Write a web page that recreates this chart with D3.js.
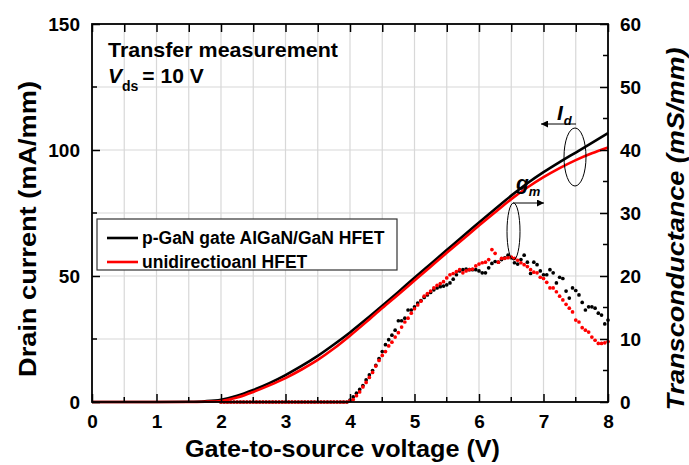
<!DOCTYPE html>
<html><head><meta charset="utf-8">
<script src="https://cdn.jsdelivr.net/npm/d3@7"></script>
<style>body{margin:0;background:#fff}svg{display:block}text{font-family:"Liberation Sans",Arial,sans-serif;font-weight:bold}</style>
</head><body><svg id="c" width="689" height="465"></svg>
<script>
// Drain current Id (mA/mm) vs Vgs (V)
const idV = [0,0.5,1,1.5,1.75,2,2.25,2.5,2.75,3,3.25,3.5,3.75,4,4.25,4.5,4.75,5,5.25,5.5,5.75,6,6.25,6.5,6.75,7,7.25,7.5,7.75,8];
const idBlack = [0,0,0,0.1,0.3,0.9,2.5,4.8,7.5,10.7,14.3,18.3,22.8,27.6,32.8,38.2,43.7,49.3,54.8,60.3,65.8,71.2,76.6,81.9,86.8,91.2,95.2,99.0,102.8,106.7];
const idRed   = [0,0,0,0,0.1,0.4,1.8,4,6.6,9.5,12.9,16.7,21.2,26.3,31.7,37.3,42.7,48.2,53.7,59.2,64.6,70,75.3,80.5,85.1,89.2,92.8,96,98.7,101];
// Transconductance gm (mS/mm), sampled every 0.05 V from 2.0 V to 8.0 V
const gmStart = 2.0, gmStep = 0.05;
const gmBlack = [
0,0,0,0,0,0,0,0,0,0,0,0,0,0,0,0,0,0,0,0,0,0,0,0,0,0,0,0,0,0,0,0,0,0,0,0,0,0,0,0,
0.3,0.8,1.4,2.0,2.6,3.5,4.3,5.0,5.8,6.9,8.0,9.1,9.9,10.6,11.4,12.9,12.9,13.3,14.6,14.6,
15.1,15.7,16.1,16.6,17.0,17.4,17.8,18.1,18.3,18.4,18.6,18.9,19.5,20.2,20.8,21.0,21.1,21.0,21.0,21.0,
20.8,20.5,20.5,21.3,22.0,22.3,22.2,22.6,22.9,23.3,22.9,22.1,21.9,22.6,23.3,22.2,20.4,22.2,21.8,20.8,
20.2,20.2,21.0,20.5,18.9,19.8,19.6,17.6,16.5,18.1,17.7,17.0,15.8,14.6,15.1,15.1,14.9,14.1,13.8,12.4,13.0];
const gmRed = [
0,0,0,0,0,0,0,0,0,0,0,0,0,0,0,0,0,0,0,0,0,0,0,0,0,0,0,0,0,0,0,0,0,0,0,0,0,0,0,0,
0.2,0.4,1.0,1.6,2.4,3.1,3.9,4.7,5.7,6.6,7.4,8.0,8.9,9.5,10.3,11.0,11.9,12.7,13.3,14.1,
14.8,15.4,16.0,16.8,17.2,17.6,18.1,18.5,18.8,19.1,19.7,20.2,20.4,20.7,21.0,20.5,20.8,21.0,21.1,21.6,
21.9,22.1,22.2,22.6,24.2,23.6,22.2,22.8,22.8,22.9,23.0,22.8,22.5,22.1,21.8,21.5,21.0,20.6,20.5,19.8,
19.6,19.0,18.1,18.1,17.5,16.8,16.2,15.5,14.9,14.3,13.0,12.7,11.8,11.4,11.1,10.3,9.8,9.3,9.3,9.4,9.6];
const xTicks = [0,1,2,3,4,5,6,7,8];
const yLeftTicks = [0,50,100,150];
const yRightTicks = [0,10,20,30,40,50,60];
const seriesNames = ["p-GaN gate AlGaN/GaN HFET","unidirectioanl HFET"];
const colors = ["#000000","#ff0000"];

const svg = d3.select("#c");
const L=92,R=608,T=24,B=402;
const x = d3.scaleLinear().domain([0,8]).range([L,R]);
const yL = d3.scaleLinear().domain([0,150]).range([B,T]);
const yR = d3.scaleLinear().domain([0,60]).range([B,T]);

// grid
const gx = d3.range(0.5,8,0.5), gy = d3.range(25,150,25);
svg.append("g").selectAll("line").data(gx).join("line")
  .attr("x1",d=>x(d)).attr("x2",d=>x(d)).attr("y1",T).attr("y2",B)
  .attr("stroke","#d8d8d8").attr("stroke-width",1.2);
svg.append("g").selectAll("line").data(gy).join("line")
  .attr("y1",d=>yL(d)).attr("y2",d=>yL(d)).attr("x1",L).attr("x2",R)
  .attr("stroke","#d8d8d8").attr("stroke-width",1.2);

// gm dots
const gmPts = (arr)=>arr.map((g,i)=>[gmStart+i*gmStep,g]);
[gmBlack,gmRed].forEach((arr,k)=>{
  svg.append("g").selectAll("circle").data(gmPts(arr)).join("circle")
    .attr("cx",d=>x(d[0])).attr("cy",d=>yR(d[1])).attr("r",1.85).attr("fill",colors[k]);
});

// Id curves
const line = d3.line().x(d=>x(d[0])).y(d=>yL(d[1])).curve(d3.curveMonotoneX);
[idBlack,idRed].forEach((arr,k)=>{
  svg.append("path").datum(idV.map((v,i)=>[v,arr[i]])).attr("d",line)
    .attr("fill","none").attr("stroke",colors[k]).attr("stroke-width",2.6);
});

// axes
const ax = (g)=>g.selectAll("text").attr("font-size",19).attr("font-weight","bold").attr("fill","#000");
const minorX = d3.range(0,8.01,0.5);
svg.append("g").attr("transform",`translate(0,${B})`)
  .call(d3.axisBottom(x).tickValues(xTicks).tickSize(-8).tickPadding(13).tickFormat(d3.format("d")))
  .call(g=>g.select(".domain").remove()).call(ax);
svg.append("g").attr("transform",`translate(0,${B})`).selectAll("line").data(minorX.filter(d=>d%1)).join("line")
  .attr("x1",d=>x(d)).attr("x2",d=>x(d)).attr("y1",0).attr("y2",-5).attr("stroke","#000").attr("stroke-width",1.5);
svg.append("g").attr("transform",`translate(0,${T})`)
  .call(d3.axisTop(x).tickValues(minorX).tickSize(-8).tickFormat(""))
  .call(g=>g.select(".domain").remove());
svg.append("g").attr("transform",`translate(${L},0)`)
  .call(d3.axisLeft(yL).tickValues(yLeftTicks).tickSize(-8).tickPadding(12))
  .call(g=>g.select(".domain").remove()).call(ax);
svg.append("g").attr("transform",`translate(${L},0)`).selectAll("line").data([25,75,125]).join("line")
  .attr("x1",0).attr("x2",5).attr("y1",d=>yL(d)).attr("y2",d=>yL(d)).attr("stroke","#000").attr("stroke-width",1.5);
svg.append("g").attr("transform",`translate(${R},0)`)
  .call(d3.axisRight(yR).tickValues(yRightTicks).tickSize(-8).tickPadding(12))
  .call(g=>g.select(".domain").remove()).call(ax);
svg.append("g").attr("transform",`translate(${R},0)`).selectAll("line").data(d3.range(5,60,10)).join("line")
  .attr("x1",0).attr("x2",-5).attr("y1",d=>yR(d)).attr("y2",d=>yR(d)).attr("stroke","#000").attr("stroke-width",1.5);
svg.selectAll(".tick line").attr("stroke-width",1.5);
svg.append("rect").attr("x",L).attr("y",T).attr("width",R-L).attr("height",B-T)
  .attr("fill","none").attr("stroke","#000").attr("stroke-width",1.8);

// axis titles
svg.append("text").attr("x",(185+500)/2).attr("y",457).attr("text-anchor","middle")
  .attr("font-size",24).attr("textLength",315).attr("lengthAdjust","spacingAndGlyphs").text("Gate-to-source voltage (V)");
svg.append("text").attr("transform","translate(36,229) rotate(-90)").attr("text-anchor","middle")
  .attr("font-size",24).attr("textLength",296).attr("lengthAdjust","spacingAndGlyphs").text("Drain current (mA/mm)");
svg.append("text").attr("transform","translate(684,229) rotate(-90)").attr("text-anchor","middle")
  .attr("font-size",23).attr("font-style","italic").attr("textLength",363).attr("lengthAdjust","spacingAndGlyphs").text("Transconductance (mS/mm)");

// annotation text
svg.append("text").attr("x",108).attr("y",57).attr("font-size",21).attr("textLength",230).attr("lengthAdjust","spacingAndGlyphs").text("Transfer measurement");
const vt = svg.append("text").attr("x",108).attr("y",83).attr("font-size",21);
vt.append("tspan").attr("font-style","italic").text("V");
vt.append("tspan").attr("font-size",14).attr("dy",8).text("ds");
vt.append("tspan").attr("dy",-8).attr("dx",4).text("= 10 V");

// legend
svg.append("rect").attr("x",97).attr("y",219).attr("width",300).attr("height",51)
  .attr("fill","#fff").attr("stroke","#333").attr("stroke-width",1.2);
seriesNames.forEach((n,i)=>{
  const yy = 238 + i*24;
  svg.append("line").attr("x1",107).attr("x2",138).attr("y1",yy).attr("y2",yy).attr("stroke",colors[i]).attr("stroke-width",2.6);
  svg.append("text").attr("x",142).attr("y",yy+5.5).attr("font-size",17.5).text(n);
});

// Id / gm markers
const defs = svg.append("defs");
defs.append("marker").attr("id","ah").attr("viewBox","0 0 10 10").attr("refX",10).attr("refY",5)
  .attr("markerWidth",10).attr("markerHeight",7).attr("markerUnits","userSpaceOnUse").attr("orient","auto")
  .append("path").attr("d","M0,0L10,5L0,10z").attr("fill","#000");
svg.append("ellipse").attr("cx",575).attr("cy",157).attr("rx",11).attr("ry",29).attr("fill","none").attr("stroke","#000").attr("stroke-width",1);
svg.append("line").attr("x1",576).attr("y1",124).attr("x2",541).attr("y2",124).attr("stroke","#000").attr("stroke-width",1).attr("marker-end","url(#ah)");
const it = svg.append("text").attr("x",557).attr("y",120).attr("font-size",21).attr("font-style","italic");
it.append("tspan").text("I");
it.append("tspan").attr("font-size",13).attr("dy",5).attr("dx",1).text("d");
svg.append("ellipse").attr("cx",513.5).attr("cy",231.5).attr("rx",6.5).attr("ry",28.5).attr("fill","none").attr("stroke","#000").attr("stroke-width",1);
svg.append("line").attr("x1",513).attr("y1",203).attr("x2",544).attr("y2",203).attr("stroke","#000").attr("stroke-width",1).attr("marker-end","url(#ah)");
const gt = svg.append("text").attr("x",516).attr("y",190).attr("font-size",21).attr("font-style","italic");
gt.append("tspan").text("g");
gt.append("tspan").attr("font-size",13).attr("dy",6).attr("dx",0).text("m");
</script></body></html>
